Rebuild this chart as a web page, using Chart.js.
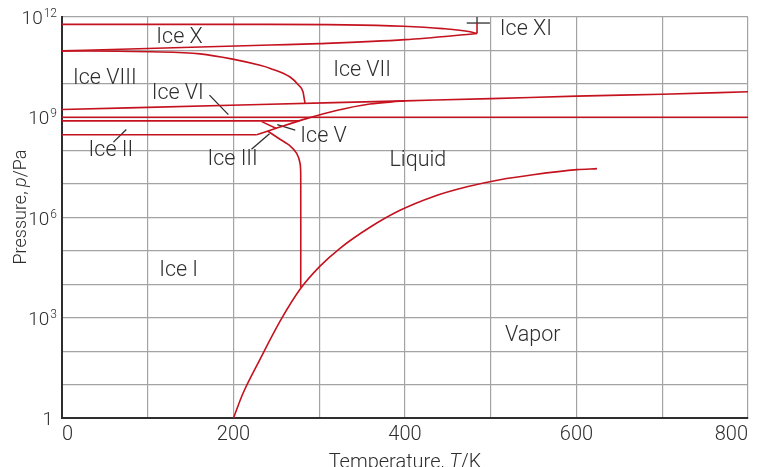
<!DOCTYPE html>
<html>
<head>
<meta charset="utf-8">
<script src="https://cdn.jsdelivr.net/npm/chart.js@4"></script>
<style>
  html, body { margin: 0; padding: 0; background: #fff; }
  #wrap { width: 757px; height: 467px; }
</style>
</head>
<body>
<div id="wrap"><canvas id="phaseChart"></canvas></div>
<script>
// Phase diagram of water. Temperatures in K, pressures in Pa.

// Ice X boundaries
const iceXTopT = [0, 240, 398, 444, 476, 484];
const iceXTopP = [6.0e11, 6.0e11, 5.3e11, 4.5e11, 3.6e11, 3.2e11];
const iceXBottomT = [0, 79, 161, 243, 300, 400, 484];
const iceXBottomP = [9.7e10, 1.1e11, 1.26e11, 1.45e11, 1.6e11, 2.1e11, 3.2e11];
// Ice XI marker
const iceXIT = [484, 484];
const iceXIP = [3.2e11, 6.6e11];
// Ice VIII / Ice VII
const iceVIIIT = [0, 103, 161, 199, 231, 243, 266, 276, 281, 283.4];
const iceVIIIP = [9.7e10, 9.1e10, 7.9e10, 5.5e10, 3.6e10, 2.9e10, 1.6e10, 9.1e9, 5.8e9, 2.6e9];
// Ice VI / Ice VII and Ice VII melting line
const iceVIIT = [0, 231, 400, 500, 600, 700, 800];
const iceVIIP = [1.7e9, 2.4e9, 3.1e9, 3.6e9, 4.3e9, 4.9e9, 5.8e9];
// horizontal boundaries
const line1GPaT = [0, 800];
const line1GPaP = [1.0e9, 1.0e9];
const iceVIT = [0, 277];
const iceVIP = [7.8e8, 7.8e8];
const iceIIT = [0, 227];
const iceIIP = [3.0e8, 3.0e8];
// melting line of Ice III, V, VI
const meltT = [227, 254, 285, 320, 359, 394, 400];
const meltP = [3.0e8, 5.1e8, 9.1e8, 1.6e9, 2.5e9, 3.0e9, 3.1e9];
// Ice V / Ice III
const iceVT = [233, 250];
const iceVP = [7.4e8, 4.6e8];
// Ice I melting line
const iceIT = [240.2, 254.2, 265.9, 273.7, 277.6, 278.4, 278.4];
const iceIP = [3.8e8, 2.2e8, 1.4e8, 8.3e7, 4.2e7, 1.8e7, 8.1e3];
// liquid / vapor
const vaporT = [200, 211.1, 230.9, 254.2, 277.6, 300.9, 324.2, 359.2, 394.2, 432.7, 472.3, 510.8, 549.3, 600.6, 623.9];
const vaporP = [1, 5.5, 57, 780, 7.1e3, 3.5e4, 1.2e5, 5.1e5, 1.64e6, 4.2e6, 8.3e6, 1.35e7, 1.9e7, 2.7e7, 2.9e7];

// leader lines and the Ice XI cross
const leaderVIT = [172, 194];
const leaderVIP = [4.6e9, 1.2e9];
const leaderIIT = [75, 60];
const leaderIIP = [4.3e8, 1.8e8];
const leaderIIIT = [242, 221];
const leaderIIIP = [3.2e8, 1.1e8];
const leaderVT = [251, 272];
const leaderVP = [6.0e8, 4.1e8];
const crossHT = [472, 499];
const crossHP = [6.6e11, 6.6e11];
const crossVT = [484, 484];
const crossVP = [6.6e11, 1.0e12];

// region labels
const phaseNames = ['Ice X', 'Ice XI', 'Ice VIII', 'Ice VI', 'Ice VII', 'Ice II', 'Ice III', 'Ice V', 'Liquid', 'Ice I', 'Vapor'];
const phaseT = [137, 541, 50, 135, 350, 57, 199, 305, 415, 136, 549];
const phaseP = [2.8e11, 4.8e11, 1.7e10, 6.0e9, 2.8e10, 1.2e8, 6.2e7, 3.1e8, 6.0e7, 3.1e4, 340];

// axis ticks
const yGridValues = [1, 1e1, 1e2, 1e3, 1e4, 1e5, 1e6, 1e7, 1e8, 1e9, 1e10, 1e11, 1e12];
const yLabelValues = [1, 1e3, 1e6, 1e9, 1e12];
const yLabelExps = ['', '3', '6', '9', '12'];
const xLabelStep = 200;

const RED = '#c4121f';
const INK = '#2e2e2e';
const GRID = '#a3a3a3';
const FONT = 'Roboto, "Liberation Sans", sans-serif';

const pts = (ts, ps) => ts.map((t, i) => ({ x: t, y: ps[i] }));

const redLine = (ts, ps, smooth) => ({
  data: pts(ts, ps),
  borderColor: RED,
  borderWidth: 1.6,
  pointRadius: 0,
  fill: false,
  cubicInterpolationMode: smooth === 'mono' ? 'monotone' : 'default',
  tension: smooth ? 0.3 : 0,
});
const inkLine = (ts, ps) => ({
  data: pts(ts, ps),
  borderColor: INK,
  borderWidth: 1.3,
  pointRadius: 0,
  fill: false,
  tension: 0,
});

const datasets = [
  redLine(iceXTopT, iceXTopP, 'mono'),
  redLine(iceXBottomT, iceXBottomP, 'mono'),
  redLine(iceXIT, iceXIP, false),
  redLine(iceVIIIT, iceVIIIP, 'mono'),
  redLine(iceVIIT, iceVIIP, 'mono'),
  redLine(line1GPaT, line1GPaP, false),
  redLine(iceVIT, iceVIP, false),
  redLine(iceIIT, iceIIP, false),
  redLine(meltT, meltP, 'mono'),
  redLine(iceVT, iceVP, false),
  redLine(iceIT, iceIP, true),
  redLine(vaporT, vaporP, 'mono'),
  inkLine(leaderVIT, leaderVIP),
  inkLine(leaderIIT, leaderIIP),
  inkLine(leaderIIIT, leaderIIIP),
  inkLine(leaderVT, leaderVP),
  inkLine(crossHT, crossHP),
  inkLine(crossVT, crossVP),
];

// region names, y tick labels with exponents, and axis titles
const textPlugin = {
  id: 'phaseText',
  afterDraw(chart) {
    const { ctx, scales: { x, y } } = chart;
    ctx.save();
    ctx.fillStyle = INK;
    ctx.textBaseline = 'alphabetic';

    ctx.font = '300 21.5px ' + FONT;
    ctx.textAlign = 'center';
    phaseNames.forEach((name, i) => {
      ctx.fillText(name, x.getPixelForValue(phaseT[i]), y.getPixelForValue(phaseP[i]) + 7.6);
    });

    // y tick labels: 1, 10^3, 10^6 ...
    ctx.textAlign = 'left';
    const right = 57;
    yLabelValues.forEach((v, i) => {
      const py = y.getPixelForValue(v);
      const exp = yLabelExps[i];
      if (!exp) {
        ctx.font = '300 19px ' + FONT;
        const w = ctx.measureText('1').width;
        ctx.fillText('1', right - 4 - w, py + 7);
        return;
      }
      ctx.font = '300 12px ' + FONT;
      const we = ctx.measureText(exp).width;
      ctx.font = '300 19px ' + FONT;
      const wb = ctx.measureText('10').width;
      const start = right - we - wb - 1;
      ctx.fillText('10', start, py + 7);
      ctx.font = '300 12px ' + FONT;
      ctx.fillText(exp, start + wb + 1, py);
    });

    // axis titles, with italic symbols
    const drawParts = (parts, size, cx, cy, rot) => {
      ctx.save();
      ctx.translate(cx, cy);
      ctx.rotate(rot);
      let total = 0;
      parts.forEach(p => { ctx.font = p[1] + ' ' + size + 'px ' + FONT; total += ctx.measureText(p[0]).width; });
      let pos = -total / 2;
      parts.forEach(p => {
        ctx.font = p[1] + ' ' + size + 'px ' + FONT;
        ctx.fillText(p[0], pos, 0);
        pos += ctx.measureText(p[0]).width;
      });
      ctx.restore();
    };
    drawParts([['Temperature, ', '300'], ['T', 'italic 300'], ['/K', '300']], 20,
      (chart.chartArea.left + chart.chartArea.right) / 2, 468, 0);
    drawParts([['Pressure, ', '300'], ['p', 'italic 300'], ['/Pa', '300']], 18, 26, 207, -Math.PI / 2);

    ctx.restore();
  }
};

new Chart(document.getElementById('phaseChart'), {
  type: 'line',
  data: { datasets },
  options: {
    responsive: true,
    maintainAspectRatio: false,
    animation: false,
    events: [],
    layout: { padding: { left: 0, right: 9, top: 17, bottom: 0 } },
    plugins: { legend: { display: false }, tooltip: { enabled: false } },
    scales: {
      x: {
        type: 'linear',
        min: 0,
        max: 800,
        ticks: {
          stepSize: 100,
          align: 'inner',
          padding: 5,
          maxRotation: 0,
          color: INK,
          font: { family: FONT, size: 20, weight: '300' },
          callback: (v) => (v % xLabelStep === 0 ? String(v) : ''),
        },
        grid: {
          drawTicks: false,
          lineWidth: 1.2,
          color: (c) => (c.tick && c.tick.value === 0 ? 'rgba(0,0,0,0)' : GRID),
        },
        border: { color: INK, width: 2 },
        afterFit: (scale) => {
          scale.height = 49;
          scale.paddingLeft = 0;
          scale.paddingRight = 0;
        },
      },
      y: {
        type: 'logarithmic',
        min: 1,
        max: 1e12,
        afterBuildTicks: (scale) => {
          scale.ticks = yGridValues.map(v => ({ value: v }));
        },
        ticks: { display: false },
        grid: {
          drawTicks: false,
          lineWidth: 1.2,
          color: (c) => (c.tick && c.tick.value === 1 ? 'rgba(0,0,0,0)' : GRID),
        },
        border: { color: INK, width: 2 },
        afterFit: (scale) => {
          scale.width = 62;
          scale.paddingTop = 0;
          scale.paddingBottom = 0;
        },
      },
    },
  },
  plugins: [textPlugin],
});
</script>
</body>
</html>
